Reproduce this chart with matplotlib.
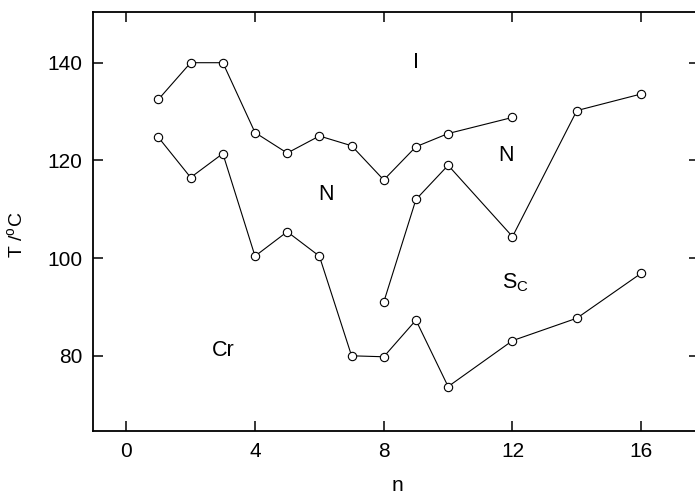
import matplotlib
matplotlib.use("Agg")
import matplotlib.pyplot as plt

plt.rcParams['font.family'] = ['Liberation Sans', 'DejaVu Sans']
plt.rcParams['mathtext.fontset'] = 'custom'
plt.rcParams['mathtext.rm'] = 'Liberation Sans'

# transition temperatures vs chain length n
n_ni = [1, 2, 3, 4, 5, 6, 7, 8, 9, 10, 12]
T_ni = [132.5, 140.0, 140.0, 125.7, 121.5, 125.0, 123.0, 116.0, 122.8, 125.5, 128.8]

n_sc = [8, 9, 10, 12, 14, 16]
T_sc = [91.0, 112.0, 119.0, 104.4, 130.2, 133.6]

n_cr = [1, 2, 3, 4, 5, 6, 7, 8, 9, 10, 12, 14, 16]
T_cr = [124.7, 116.5, 121.4, 100.4, 105.4, 100.4, 80.0, 79.8, 87.3, 73.7, 83.1, 87.7, 96.9]

phase_labels = [('I', 9.0, 140.0), ('N', 11.8, 121.0), ('N', 6.2, 113.0),
                (r'S$_{\rm C}$', 12.1, 95.0), ('Cr', 3.0, 81.0)]

xticks = [0, 4, 8, 12, 16]
yticks = [80, 100, 120, 140]

fig = plt.figure(figsize=(6.95, 4.96), dpi=100)
ax = fig.add_axes([0.134, 0.131, 0.872, 0.845])

style = dict(color='black', lw=0.8, marker='o', ms=6, mfc='white', mec='black', mew=0.8)
for xs, ys in [(n_ni, T_ni), (n_sc, T_sc), (n_cr, T_cr)]:
    ax.plot(xs, ys, **style)

for txt, x, y in phase_labels:
    ax.text(x, y, txt, fontsize=15.5, ha='center', va='center')

ax.set_xlim(-1.03, 17.8)
ax.set_ylim(64.6, 150.4)
ax.set_xticks(xticks)
ax.set_yticks(yticks)
ax.tick_params(direction='in', length=7, width=1.1, labelsize=15,
               top=True, right=True, pad=8)
for s in ax.spines.values():
    s.set_linewidth(1.3)

ax.set_xlabel('n', fontsize=15, va='center')
ax.set_ylabel(r'T /$^{\rm o}$C', fontsize=14, va='center')
ax.xaxis.set_label_coords(0.502, -0.131)
ax.yaxis.set_label_coords(-0.127, 0.468)

fig.savefig('out.png', dpi=100)
